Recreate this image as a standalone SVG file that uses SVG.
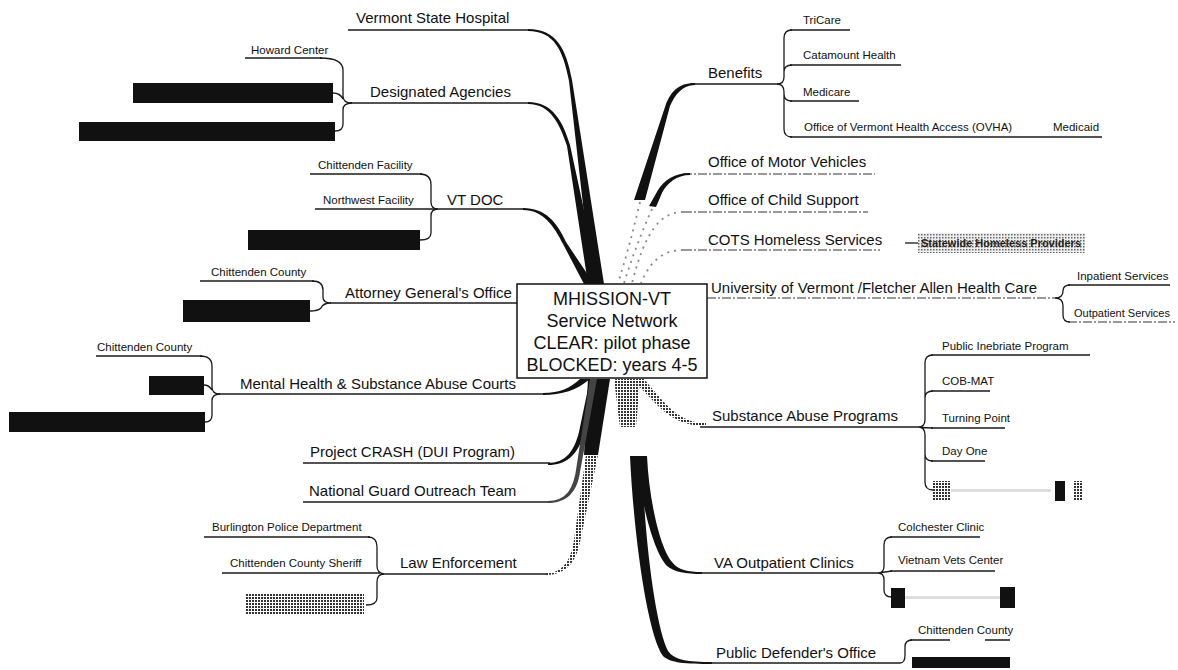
<svg xmlns="http://www.w3.org/2000/svg" width="1178" height="670" viewBox="0 0 1178 670">
<defs>
<pattern id="stip" width="3" height="3" patternUnits="userSpaceOnUse"><rect width="3" height="3" fill="#fff"/><rect width="2" height="2" fill="#333"/></pattern>
<pattern id="stipL" width="3" height="3" patternUnits="userSpaceOnUse"><rect width="3" height="3" fill="#eee"/><rect width="1.5" height="1.5" fill="#666"/></pattern>
</defs>
<style>
text{font-family:"Liberation Sans",Arial,sans-serif;fill:#111}
.m{font-size:15px}
.s{font-size:11.5px}
.c{font-size:18px;text-anchor:middle}
.u{stroke:#1a1a1a;stroke-width:1.3;fill:none}
.f{stroke:#333;stroke-width:1.2;fill:none;stroke-dasharray:9 2 2 2}
.d{stroke:#888;stroke-width:1.8;fill:none;stroke-dasharray:2 5}
.b{stroke:#1a1a1a;stroke-width:1.3;fill:none}
.w{fill:#111}
.g{fill:url(#stip)}
.r{fill:#111}
</style>
<rect width="1178" height="670" fill="#fff"/>
<g id="connectors">
<path class="u" d="M348,30 H530"/>
<path class="w" d="M528,29 C556,29 566,48 572,80 L604,284 L592,284 L569,81 C563,50 554,31 528,31 Z"/>
<path class="u" d="M350,103 H530"/>
<path class="w" d="M528,102 C553,102 563,122 570,145 L600,284 L588,284 L567,146 C560,125 551,104 528,104 Z"/>
<path class="u" d="M435,209 H525"/>
<path class="w" d="M523,208 C545,208 557,222 566,242 L594,284 L584,284 L563,244 C554,226 543,210 523,210 Z"/>
<path class="u" d="M330,303 H517"/>
<path class="u" d="M690,84 H779"/>
<path class="w" d="M695,83 C678,83 671,92 666,104 L634,200 L645,200 L670,106 C675,95 682,85 695,85 Z"/>
<path class="d" d="M640,202 Q630,245 618,283"/>
<path class="f" d="M683,174 H875"/>
<path class="w" d="M690,173 C675,173 664,180 658,190 L649,206 L656,207 L662,193 C667,183 677,175 690,175 Z"/>
<path class="d" d="M652,209 Q636,245 624,283"/>
<path class="f" d="M683,212 H868"/>
<path class="d" d="M683,212 C660,212 645,232 632,283"/>
<path class="f" d="M683,250 H880"/>
<path class="d" d="M683,250 C662,250 650,262 641,283"/>
<path class="u" d="M905,243 H918"/>
<path class="f" d="M707,298 H1055"/>
<path class="u" d="M218,394 H545"/>
<path class="w" d="M543,393 C560,393 570,388 580,379 L590,379 C577,390 562,395 543,395 Z"/>
<path class="w" d="M588,379 L610,379 L598,455 L584,455 Z"/>
<path class="u" d="M303,463 H550"/>
<path class="w" d="M548,463 C565,463 574,452 579,432 L590,379 L600,379 L584,434 C577,456 566,465 548,465 Z"/>
<path class="u" d="M303,502 H550"/>
<path style="fill:#444" d="M548,501 C565,501 573,490 576,470 L590,379 L597,379 L580,472 C577,493 566,503 548,503 Z"/>
<path class="u" d="M382,574 H548"/>
<path class="g" d="M546,573 C563,573 571,560 574,540 L586,455 L598,455 L580,542 C576,563 565,575 546,575 Z"/>
<path class="g" d="M614,379 L640,379 L636,427 L620,427 Z"/>
<path class="u" d="M700,427 H918"/>
<path class="g" d="M706,426 C684,426 670,418 656,404 L632,379 L644,379 L661,399 C674,413 686,423 706,423 Z"/>
<path class="w" d="M636,456 L647,456 C649,500 660,548 672,562 C678,570 688,572 702,572 L702,574 C686,574 674,572 667,566 C654,552 641,505 636,456 Z"/>
<path class="u" d="M700,573 H878"/>
<path class="w" d="M630,456 L642,456 C644,540 656,628 668,651 C674,660 688,662 712,662 L712,664 C686,664 670,663 663,656 C648,636 634,540 630,456 Z"/>
<path class="u" d="M710,663 H900"/>
<path class="u" d="M245,58 H322"/>
<path class="b" d="M320,58 Q343,58 343,70 L343,96 Q343,103 352,103 M352,103 Q343,103 343,110 L343,124 Q343,131 335,131 M333,93 Q340,93 343,99"/>
<path class="u" d="M310,174 H422"/>
<path class="u" d="M315,209 H436"/>
<path class="b" d="M420,174 Q431,174 431,185 L431,202 Q431,209 438,209 M438,209 Q431,209 431,216 L431,233 Q431,240 420,240"/>
<path class="u" d="M200,281 H314"/>
<path class="b" d="M312,281 Q323,281 323,290 L323,297 Q323,303 331,303 M331,303 Q323,303 321,308 Q318,311 310,311"/>
<path class="u" d="M96,356 H202"/>
<path class="b" d="M200,356 Q212,356 212,366 L212,387 Q212,394 220,394 M220,394 Q212,394 212,401 L212,415 Q212,422 205,422 M204,385 Q209,385 212,390"/>
<path class="u" d="M204,537 H370"/>
<path class="u" d="M222,573 H380"/>
<path class="b" d="M368,537 Q377,537 377,547 L377,566 Q377,573 384,574 M384,574 Q377,574 377,582 L377,598 Q377,605 366,605"/>
<path class="b" d="M777,84 Q784,84 784,77 L784,38 Q784,30 792,30 M784,72 Q784,65 792,65 M777,84 Q784,84 784,92 L784,129 Q784,137 792,137 M784,94 Q784,101 792,101"/>
<path class="u" d="M790,30 H850"/>
<path class="u" d="M790,65 H901"/>
<path class="u" d="M790,101 H859"/>
<path class="u" d="M790,137 H1102"/>
<path class="b" d="M1055,298 Q1063,298 1063,291 Q1063,285 1070,285 M1055,298 Q1063,298 1063,306 L1063,315 Q1063,322 1070,322"/>
<path class="u" d="M1068,285 H1170"/>
<path class="f" d="M1068,322 H1175"/>
<path class="b" d="M918,427 Q925,427 925,420 L925,363 Q925,355 933,355 M925,398 Q925,391 933,391 M918,427 Q926,428 933,428 M918,427 Q925,427 925,435 L925,482 Q925,490 933,490 M925,454 Q925,461 933,461"/>
<path class="u" d="M931,355 H1090"/>
<path class="u" d="M931,391 H990"/>
<path class="u" d="M931,428 H1005"/>
<path class="u" d="M931,461 H985"/>
<path class="b" d="M878,573 Q884,573 884,566 L884,545 Q884,537 892,537 M878,573 Q885,572 892,571 M878,573 Q884,573 884,580 L884,590 Q884,597 892,597"/>
<path class="u" d="M890,537 H980"/>
<path class="u" d="M890,571 H995"/>
<path class="b" d="M900,663 Q905,663 905,655 L905,647 Q905,640 912,640"/>
<path class="u" d="M910,640 H950 M985,640 H1010"/>
</g>
<g id="center">
<rect x="517" y="284" width="190" height="94" fill="#fff" stroke="#111" stroke-width="1.5"/>
<text class="c" x="612" y="305">MHISSION-VT</text>
<text class="c" x="612" y="327">Service Network</text>
<text class="c" x="612" y="349">CLEAR: pilot phase</text>
<text class="c" x="612" y="371">BLOCKED: years 4-5</text>
</g>
<g id="n-vsh"><text class="m" x="356" y="23">Vermont State Hospital</text></g>
<g id="n-da"><text class="m" x="370" y="97">Designated Agencies</text></g>
<g id="n-howard"><text class="s" x="251" y="54">Howard Center</text></g>
<g id="n-da-r1"><rect class="r" x="133" y="83" width="200" height="20"/></g>
<g id="n-da-r2"><rect class="r" x="79" y="122" width="256" height="19"/></g>
<g id="n-vtdoc"><text class="m" x="447" y="205">VT DOC</text></g>
<g id="n-chfac"><text class="s" x="318" y="169">Chittenden Facility</text></g>
<g id="n-nwfac"><text class="s" x="323" y="204">Northwest Facility</text></g>
<g id="n-vtdoc-r"><rect class="r" x="248" y="230" width="172" height="20"/></g>
<g id="n-ag"><text class="m" x="345" y="298">Attorney General's Office</text></g>
<g id="n-ag-cc"><text class="s" x="211" y="276">Chittenden County</text></g>
<g id="n-ag-r"><rect class="r" x="183" y="300" width="127" height="22"/></g>
<g id="n-mh"><text class="m" x="240" y="389">Mental Health &amp; Substance Abuse Courts</text></g>
<g id="n-mh-cc"><text class="s" x="97" y="351">Chittenden County</text></g>
<g id="n-mh-r1"><rect class="r" x="149" y="376" width="55" height="19"/></g>
<g id="n-mh-r2"><rect class="r" x="9" y="412" width="196" height="20"/></g>
<g id="n-crash"><text class="m" x="310" y="457">Project CRASH (DUI Program)</text></g>
<g id="n-ng"><text class="m" x="309" y="496">National Guard Outreach Team</text></g>
<g id="n-le"><text class="m" x="400" y="568">Law Enforcement</text></g>
<g id="n-bpd"><text class="s" x="212" y="531">Burlington Police Department</text></g>
<g id="n-ccs"><text class="s" x="230" y="567">Chittenden County Sheriff</text></g>
<g id="n-le-r"><rect class="g" x="245" y="594" width="119" height="20"/></g>
<g id="n-ben"><text class="m" x="708" y="78">Benefits</text></g>
<g id="n-tri"><text class="s" x="803" y="24">TriCare</text></g>
<g id="n-cat"><text class="s" x="803" y="59">Catamount Health</text></g>
<g id="n-med"><text class="s" x="803" y="96">Medicare</text></g>
<g id="n-ovha"><text class="s" x="804" y="131">Office of Vermont Health Access (OVHA)</text></g>
<g id="n-medicaid"><text class="s" x="1053" y="131">Medicaid</text></g>
<g id="n-omv"><text class="m" x="708" y="167">Office of Motor Vehicles</text></g>
<g id="n-ocs"><text class="m" x="708" y="205">Office of Child Support</text></g>
<g id="n-cots"><text class="m" x="708" y="245">COTS Homeless Services</text></g>
<g id="n-shp"><rect x="918" y="233" width="167" height="20" fill="url(#stipL)"/><text x="921" y="247" textLength="160" lengthAdjust="spacingAndGlyphs" style="font-size:11px;font-weight:bold;fill:#222">Statewide Homeless Providers</text></g>
<g id="n-uvm"><text class="m" x="711" y="293">University of Vermont /Fletcher Allen Health Care</text></g>
<g id="n-inp"><text class="s" x="1077" y="280">Inpatient Services</text></g>
<g id="n-outp"><text x="1074" y="317" style="font-size:11px">Outpatient Services</text></g>
<g id="n-sap"><text class="m" x="712" y="421">Substance Abuse Programs</text></g>
<g id="n-pip"><text class="s" x="942" y="350">Public Inebriate Program</text></g>
<g id="n-cob"><text class="s" x="942" y="385">COB-MAT</text></g>
<g id="n-tp"><text class="s" x="942" y="422">Turning Point</text></g>
<g id="n-do"><text class="s" x="942" y="455">Day One</text></g>
<g id="n-sap-r"><rect class="g" x="933" y="481" width="18" height="20"/><rect x="951" y="489" width="100" height="3" fill="#ddd"/><rect class="r" x="1055" y="481" width="10" height="20"/><rect class="g" x="1074" y="481" width="9" height="20"/></g>
<g id="n-va"><text class="m" x="714" y="568">VA Outpatient Clinics</text></g>
<g id="n-col"><text class="s" x="898" y="531">Colchester Clinic</text></g>
<g id="n-vvc"><text class="s" x="898" y="564">Vietnam Vets Center</text></g>
<g id="n-va-r"><rect class="r" x="891" y="588" width="14" height="20"/><rect x="905" y="596" width="95" height="3" fill="#ddd"/><rect class="r" x="1000" y="587" width="15" height="21"/></g>
<g id="n-pd"><text class="m" x="716" y="658">Public Defender's Office</text></g>
<g id="n-pd-cc"><text class="s" x="918" y="634">Chittenden County</text></g>
<g id="n-pd-r"><rect class="r" x="912" y="657" width="98" height="11"/></g>
</svg>
